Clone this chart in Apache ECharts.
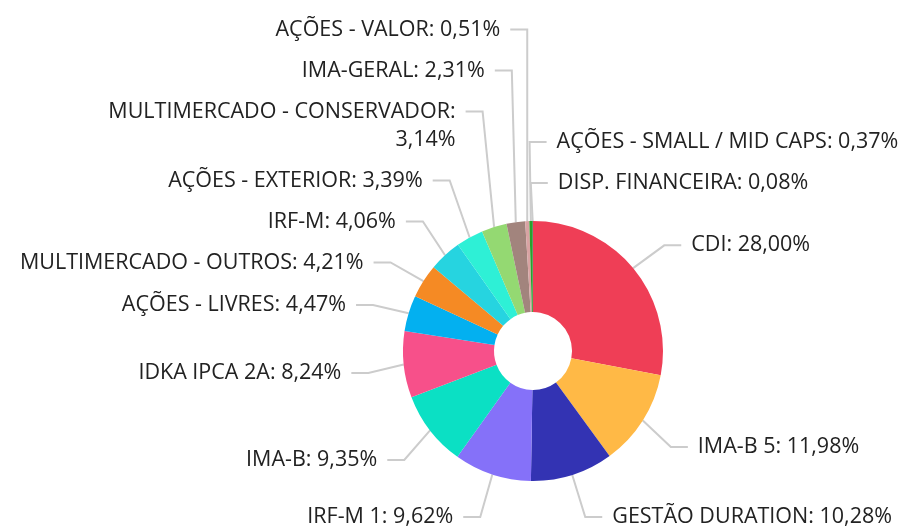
<!DOCTYPE html>
<html>
<head>
<meta charset="utf-8">
<script src="https://cdn.jsdelivr.net/npm/echarts@6/dist/echarts.min.js"></script>
<style>
  html, body { margin: 0; padding: 0; background: #fff; }
  #chart { width: 909px; height: 529px; }
</style>
</head>
<body>
<div id="chart"></div>
<script>
// categories and values, clockwise from 12 o'clock
const names = [
  'CDI', 'IMA-B 5', 'GESTÃO DURATION', 'IRF-M 1', 'IMA-B', 'IDKA IPCA 2A',
  'AÇÕES - LIVRES', 'MULTIMERCADO - OUTROS', 'IRF-M', 'AÇÕES - EXTERIOR',
  'MULTIMERCADO - CONSERVADOR', 'IMA-GERAL', 'AÇÕES - VALOR',
  'AÇÕES - SMALL / MID CAPS', 'DISP. FINANCEIRA'
];
const values = [28.00, 11.98, 10.28, 9.62, 9.35, 8.24, 4.47, 4.21, 4.06, 3.39, 3.14, 2.31, 0.51, 0.37, 0.08];
const colors = [
  '#EF3E56', '#FFB946', '#3333B3', '#8571F9', '#0BE0C4', '#F7508A',
  '#03B0F0', '#F58A24', '#26D4E0', '#2EF0D6', '#94D972', '#A2847D',
  '#D9A3A3', '#2BA22B', '#1E7D3A'
];

// pie geometry
const cx = 533, cy = 351, r0 = 39, r = 130;
const fontSize = 21.5, lineH = 28, slot = 41, maxTextW = 360;

const chart = echarts.init(document.getElementById('chart'));

function fmt(v) {
  return v.toFixed(2).replace('.', ',');
}

// long labels go on two lines (value below)
const ctx = document.createElement('canvas').getContext('2d');
ctx.font = fontSize + 'px "Open Sans"';
const texts = names.map((n, i) => {
  let t = n + ': ' + fmt(values[i]) + '%';
  if (ctx.measureText(t).width > maxTextW) t = n + ':\n' + fmt(values[i]) + '%';
  return t;
});

// label layout: natural spot on a ring, then pushed apart per side
const total = values.reduce((a, b) => a + b, 0);
let acc = 0;
const labs = values.map((v, i) => {
  let a = (acc + v / 2) / total * Math.PI * 2;
  acc += v;
  let lines = texts[i].split('\n').length;
  return {
    i: i,
    a: a,
    ex: cx + r * Math.sin(a),
    ey: cy - r * Math.cos(a),
    // slivers hugging 12 o'clock go to the right
    right: Math.sin(a) > -0.03,
    lines: lines,
    h: slot + (lines - 1) * lineH,
    y: cy + 4 - 172 * Math.cos(a)
  };
});

function spread(list) {
  let n = list.length;
  list[n - 1].y = Math.min(list[n - 1].y, 517);
  for (let k = n - 2; k >= 0; k--) {
    list[k].y = Math.min(list[k].y, list[k + 1].y - (list[k].h + list[k + 1].h) / 2);
  }
  list[0].y = Math.max(list[0].y, 14 + (list[0].lines - 1) * lineH / 2);
  for (let k = 1; k < n; k++) {
    list[k].y = Math.max(list[k].y, list[k - 1].y + (list[k].h + list[k - 1].h) / 2);
  }
}
const rightSide = labs.filter(l => l.right)
  .sort((p, q) => (p.a > Math.PI ? p.a - 2 * Math.PI : p.a) - (q.a > Math.PI ? q.a - 2 * Math.PI : q.a));
const leftSide = labs.filter(l => !l.right).sort((p, q) => q.a - p.a);
spread(rightSide);
spread(leftSide);

labs.forEach(l => {
  let dy = l.y - cy;
  let s = Math.abs(Math.sin(l.a));
  let half = (s > 0.2 && Math.abs(dy) < 178) ? Math.sqrt(178 * 178 - dy * dy) : 0;
  let off = 25 + 45 * Math.min(s, 0.5);
  let ay = l.y - (l.lines - 1) * lineH / 2;
  if (l.right) {
    l.x = Math.max(cx + half + 15, l.ex + off);
    l.pts = [[l.x - 10, ay], [l.x - 27, ay], [l.ex, l.ey]];
  } else {
    l.x = Math.min(cx - half - 15, l.ex - off);
    l.pts = [[l.x + 10, ay], [l.x + 27, ay], [l.ex, l.ey]];
  }
});

chart.setOption({
  backgroundColor: '#fff',
  color: colors,
  animation: false,
  series: [
    {
      type: 'pie',
      center: [cx, cy],
      radius: [r0, r],
      startAngle: 90,
      clockwise: true,
      avoidLabelOverlap: false,
      data: names.map((n, i) => ({ name: n, value: values[i] })),
      label: {
        fontFamily: '"Open Sans"',
        fontSize: fontSize,
        lineHeight: lineH,
        color: '#222',
        formatter: (p) => texts[p.dataIndex]
      },
      labelLine: {
        show: true,
        lineStyle: { color: '#ccc', width: 2 }
      },
      labelLayout: (p) => {
        let l = labs[p.dataIndex];
        return {
          x: l.x,
          y: l.y,
          align: l.right ? 'left' : 'right',
          verticalAlign: 'middle',
          labelLinePoints: l.pts,
          hideOverlap: false
        };
      },
      itemStyle: { borderWidth: 0 }
    }
  ]
});
</script>
</body>
</html>
